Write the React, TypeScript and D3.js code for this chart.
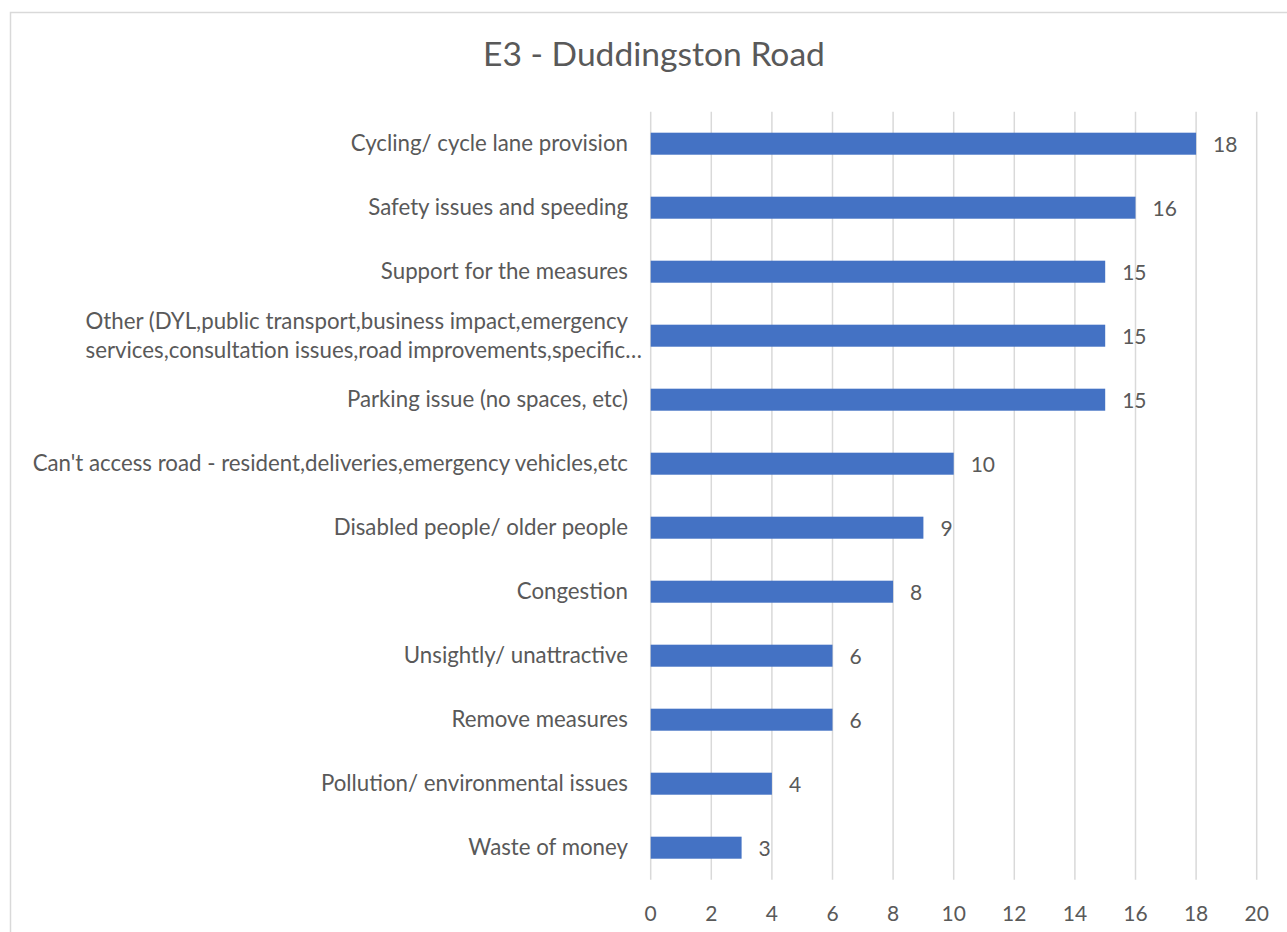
import React, { useEffect, useRef } from "react";
import * as d3 from "d3";

const title = "E3 - Duddingston Road";
const categories = [
  "Cycling/ cycle lane provision",
  "Safety issues and speeding",
  "Support for the measures",
  "Other (DYL,public transport,business impact,emergency\nservices,consultation issues,road improvements,specific…",
  "Parking issue (no spaces, etc)",
  "Can't access road - resident,deliveries,emergency vehicles,etc",
  "Disabled people/ older people",
  "Congestion",
  "Unsightly/ unattractive",
  "Remove measures",
  "Pollution/ environmental issues",
  "Waste of money",
];
const values = [18, 16, 15, 15, 15, 10, 9, 8, 6, 6, 4, 3];
const xTicks = [0, 2, 4, 6, 8, 10, 12, 14, 16, 18, 20];

const W = 1287;
const H = 932;
const FONT = "Lato, 'Open Sans', sans-serif";
const TEXT = "#595959";
const GRID = "#D9D9D9";
const BAR = "#4472C4";

export default function App() {
  const ref = useRef<SVGSVGElement>(null);

  useEffect(() => {
    const svg = d3.select(ref.current);
    svg.selectAll("*").remove();

    const fit = (txt: string, target: number, base: number) => {
      const t = svg.append("text").attr("font-family", FONT).attr("font-size", base).text(txt);
      const w = (t.node() as SVGTextElement).getComputedTextLength();
      t.remove();
      return (base * target) / w;
    };

    const catSize = fit(categories[0] + categories[5], 273 + 600, 20);
    const valSize = 21;
    const tickSize = 21;
    const titleSize = fit(title, 342, 32);

    const x = d3.scaleLinear().domain([0, 20]).range([650.7, 1256.7]);
    const y = d3
      .scaleBand<string>()
      .domain(categories)
      .range([111.7, 879.7])
      .paddingInner(0.656)
      .paddingOuter(0.328);

    // border
    svg
      .append("rect")
      .attr("x", 10.5)
      .attr("y", 12.5)
      .attr("width", 1300)
      .attr("height", 960)
      .attr("fill", "#fff")
      .attr("stroke", GRID)
      .attr("stroke-width", 1.5);

    // title
    svg
      .append("text")
      .attr("x", 654)
      .attr("y", 66)
      .attr("text-anchor", "middle")
      .attr("font-family", FONT)
      .attr("font-size", titleSize)
      .attr("fill", TEXT)
      .text(title);

    // gridlines
    svg
      .append("g")
      .selectAll("line")
      .data(xTicks)
      .join("line")
      .attr("x1", (d) => x(d))
      .attr("x2", (d) => x(d))
      .attr("y1", 111.7)
      .attr("y2", 879.7)
      .attr("stroke", GRID)
      .attr("stroke-width", 1.5);

    // tick labels
    svg
      .append("g")
      .selectAll("text")
      .data(xTicks)
      .join("text")
      .attr("x", (d) => x(d))
      .attr("y", 921)
      .attr("text-anchor", "middle")
      .attr("font-family", FONT)
      .attr("font-size", tickSize)
      .attr("fill", TEXT)
      .text((d) => String(d));

    // bars
    svg
      .append("g")
      .selectAll("rect")
      .data(categories)
      .join("rect")
      .attr("x", x(0))
      .attr("y", (d) => y(d)!)
      .attr("width", (_, i) => x(values[i]) - x(0))
      .attr("height", y.bandwidth())
      .attr("fill", BAR);

    // value labels
    svg
      .append("g")
      .selectAll("text")
      .data(categories)
      .join("text")
      .attr("x", (_, i) => x(values[i]) + 17)
      .attr("y", (d) => y(d)! + y.bandwidth() / 2 + 8)
      .attr("font-family", FONT)
      .attr("font-size", valSize)
      .attr("fill", TEXT)
      .text((_, i) => String(values[i]));

    // category labels
    const labelRight = 628;
    const gl = svg.append("g");
    categories.forEach((c) => {
      const cy = y(c)! + y.bandwidth() / 2;
      const lines = c.split("\n");
      if (lines.length === 1) {
        gl.append("text")
          .attr("x", labelRight)
          .attr("y", cy + 7)
          .attr("text-anchor", "end")
          .attr("font-family", FONT)
          .attr("font-size", catSize)
          .attr("fill", TEXT)
          .text(c);
      } else {
        const t1 = gl
          .append("text")
          .attr("x", labelRight)
          .attr("y", cy - 7)
          .attr("text-anchor", "end")
          .attr("font-family", FONT)
          .attr("font-size", catSize)
          .attr("fill", TEXT)
          .text(lines[0]);
        const w1 = (t1.node() as SVGTextElement).getComputedTextLength();
        gl.append("text")
          .attr("x", labelRight - w1)
          .attr("y", cy + 22)
          .attr("text-anchor", "start")
          .attr("font-family", FONT)
          .attr("font-size", catSize)
          .attr("fill", TEXT)
          .text(lines[1]);
      }
    });
  }, []);

  return (
    <svg
      ref={ref}
      width={W}
      height={H}
      style={{ position: "absolute", left: 0, top: 0, background: "#fff" }}
    />
  );
}
